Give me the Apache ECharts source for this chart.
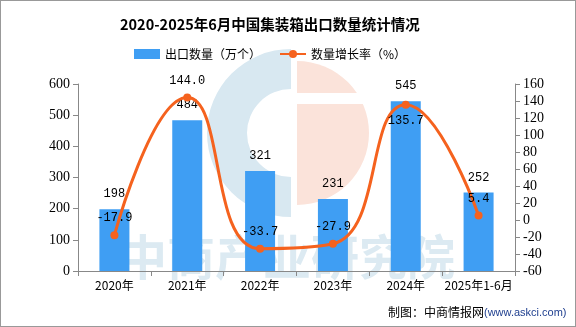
<!DOCTYPE html>
<html><head><meta charset="utf-8">
<script src="https://cdn.jsdelivr.net/npm/echarts@6/dist/echarts.min.js"></script>
<style>html,body{margin:0;padding:0;background:#fff}#c{width:576px;height:327px;box-sizing:border-box;border:1px solid #999}</style>
</head><body><div id="c"></div>
<script>
const categories = ['2020年','2021年','2022年','2023年','2024年','2025年1-6月'];
const exportQty = [198, 484, 321, 231, 545, 252];
const growthRate = [-17.9, 144.0, -33.7, -27.9, 135.7, 5.4];
const growthLabelBelow = [false, false, false, false, true, false];
const leftTicks = {min:0, max:600, interval:100};
const rightTicks = {min:-60, max:160, interval:20};

const chart = echarts.init(document.getElementById('c'));
const numFont = '"Liberation Serif",serif';
const cjk = '"Noto Sans CJK SC",sans-serif';
const lineData = growthRate.map((v,i)=>({value:v,
  label:growthLabelBelow[i]?{position:'bottom',distance:6}:{position:'top',distance:7}}));
chart.setOption({
  animation:false,
  title:{text:'2020-2025年6月中国集装箱出口数量统计情况',left:114,top:11,
    textStyle:{fontSize:14.5,fontWeight:'bold',color:'#000',fontFamily:cjk}},
  legend:{top:42,left:128,itemGap:18,itemWidth:26,itemHeight:10,
    textStyle:{fontSize:12,color:'#000',fontFamily:cjk},
    data:[{name:'出口数量（万个）',icon:'rect'},{name:'数量增长率（%）'}]},
  grid:{left:77,right:60,top:83,bottom:55},
  xAxis:{type:'category',data:categories,
    axisLine:{lineStyle:{color:'#888'}},axisTick:{show:true,lineStyle:{color:'#888'}},
    axisLabel:{interval:0,color:'#000',fontSize:12,fontFamily:cjk,margin:8}},
  yAxis:[
    {type:'value',min:leftTicks.min,max:leftTicks.max,interval:leftTicks.interval,
     axisLine:{show:true,lineStyle:{color:'#888'}},axisTick:{show:true,lineStyle:{color:'#888'}},
     splitLine:{show:false},axisLabel:{color:'#000',fontSize:14,fontFamily:numFont,margin:8}},
    {type:'value',min:rightTicks.min,max:rightTicks.max,interval:rightTicks.interval,
     axisLine:{show:true,lineStyle:{color:'#888'}},axisTick:{show:true,lineStyle:{color:'#888'}},
     splitLine:{show:false},axisLabel:{color:'#000',fontSize:14,fontFamily:numFont,margin:8}}
  ],
  series:[
    {name:'出口数量（万个）',type:'bar',data:exportQty,barWidth:30,z:2,
     itemStyle:{color:'#3f9ef3'},
     label:{show:true,position:'top',distance:9,color:'#000',fontSize:12,fontFamily:'"Liberation Mono",monospace'}},
    {name:'数量增长率（%）',type:'line',yAxisIndex:1,data:lineData,smooth:0.5,z:3,
     symbol:'circle',symbolSize:8,
     lineStyle:{color:'#f5621e',width:3},itemStyle:{color:'#f5621e'},
     label:{show:true,color:'#000',fontSize:12,fontFamily:'"Liberation Mono",monospace',
       formatter:p=>p.value.toFixed(1)}}
  ],
  graphic:[
    {type:'sector',z:-10,shape:{cx:290,cy:132,r:84,r0:44,startAngle:Math.PI/2,endAngle:Math.PI*1.5},style:{fill:'#d8e8f1'}},
    {type:'sector',z:-10,shape:{cx:296,cy:132,r:72,r0:0,startAngle:-Math.PI/2,endAngle:Math.PI/2},style:{fill:'#fbe3da'}},
    {type:'rect',z:-9,shape:{x:296,y:92,width:80,height:11},style:{fill:'#fff'}},
    {type:'text',z:-8,left:118,top:232,style:{text:'中商产业研究院',fill:'#dceaf2',fontSize:48,fontWeight:'bold',fontFamily:cjk}},
    {type:'text',left:387,top:305,style:{text:'制图：中商情报网',fill:'#000',fontSize:12,fontFamily:cjk}},
    {type:'text',left:483,top:306,style:{text:'(www.askci.com)',fill:'#1f3f8f',fontSize:11,fontFamily:'"Liberation Sans",sans-serif'}}
  ]
});
</script></body></html>
